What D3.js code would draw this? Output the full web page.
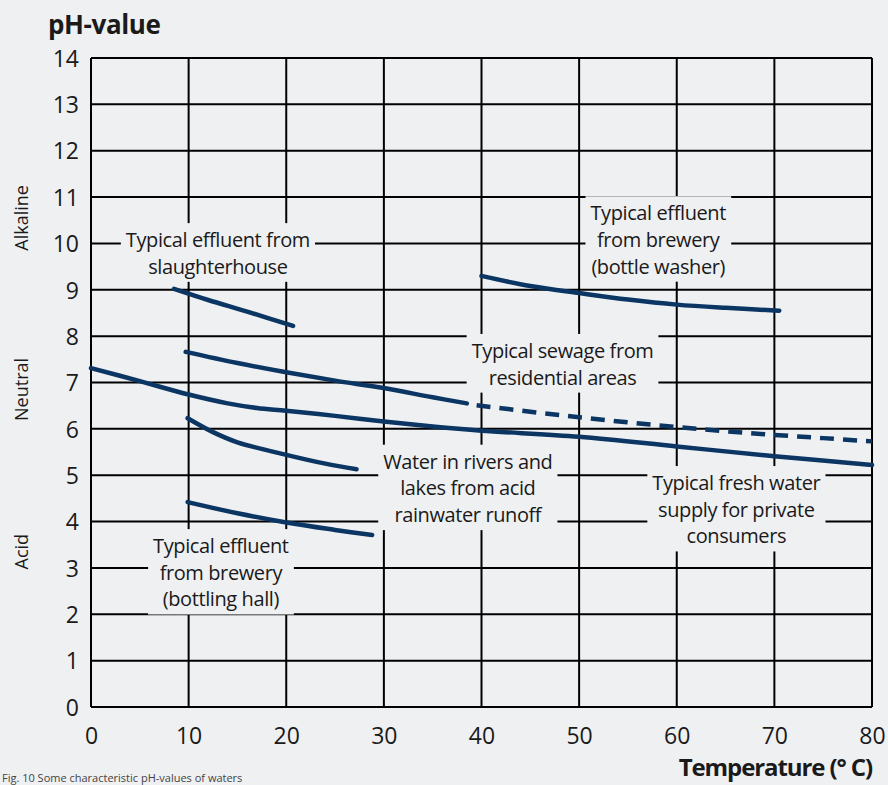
<!DOCTYPE html>
<html><head><meta charset="utf-8">
<script src="https://cdn.jsdelivr.net/npm/d3@7"></script>
<style>
html,body{margin:0;padding:0;background:#eff0f2;}
svg{display:block;font-family:"Open Sans","Noto Sans",sans-serif;}
</style></head>
<body><svg id="c" width="888" height="785"></svg>
<script>
const xTicks = [0,10,20,30,40,50,60,70,80];
const yTicks = [0,1,2,3,4,5,6,7,8,9,10,11,12,13,14];
const slaughterhouse = [[8.5,9.02],[12,8.78],[16,8.53],[20.7,8.22]];
const bottleWasher = [[40,9.3],[45,9.08],[50,8.93],[55,8.79],[60,8.68],[65,8.61],[70.5,8.55]];
const sewageSolid = [[9.7,7.66],[15,7.42],[20,7.22],[25,7.04],[30,6.88],[35,6.68],[38.5,6.55]];
const sewageDashed = [[39.5,6.51],[45,6.37],[50,6.25],[55,6.14],[60,6.04],[65,5.95],[70,5.87],[75,5.8],[80,5.73]];
const freshWater = [[0,7.31],[5,7.03],[10,6.74],[14,6.55],[17,6.45],[20,6.39],[25,6.28],[30,6.16],[35,6.05],[40,5.96],[50,5.83],[60,5.62],[70,5.41],[80,5.22]];
const acidRain = [[9.9,6.23],[12.5,5.93],[15,5.71],[20,5.44],[24,5.25],[27.2,5.13]];
const bottlingHall = [[9.9,4.42],[15,4.18],[20,3.98],[25,3.82],[28.8,3.71]];
const labels = [
  {lines:["Typical effluent from","slaughterhouse"], t:13.0, ph:9.92},
  {lines:["Typical effluent","from brewery","(bottle washer)"], t:58.1, ph:10.5},
  {lines:["Typical sewage from","residential areas"], t:48.3, ph:7.53},
  {lines:["Water in rivers and","lakes from acid","rainwater runoff"], t:38.6, ph:5.14},
  {lines:["Typical fresh water","supply for private","consumers"], t:66.1, ph:4.68},
  {lines:["Typical effluent","from brewery","(bottling hall)"], t:13.3, ph:3.32}
];
const sideLabels = [{text:"Alkaline", ph:10.55},{text:"Neutral", ph:6.85},{text:"Acid", ph:3.35}];

const svg = d3.select("#c");
const L=91, R=872, T=58, B=707;
const x = d3.scaleLinear().domain([0,80]).range([L,R]);
const y = d3.scaleLinear().domain([0,14]).range([B,T]);
const bg = "#eff0f2", ink="#1a1a1a", curveCol="#0b3563";

svg.append("rect").attr("width",888).attr("height",785).attr("fill",bg);

// grid
const g = svg.append("g");
g.selectAll("line.h").data(yTicks).join("line")
  .attr("x1",L).attr("x2",R).attr("y1",d=>y(d)).attr("y2",d=>y(d))
  .attr("stroke","#000").attr("stroke-width",2);
g.selectAll("line.v").data(xTicks).join("line")
  .attr("y1",T).attr("y2",B).attr("x1",d=>x(d)).attr("x2",d=>x(d))
  .attr("stroke","#000").attr("stroke-width",2);

// axes labels
const yAxis = d3.axisLeft(y).tickValues(yTicks).tickSize(0).tickPadding(12);
const ya = svg.append("g").attr("transform",`translate(${L},0)`).call(yAxis);
ya.select(".domain").remove();
ya.selectAll("text").attr("font-size",23).attr("fill",ink).attr("font-family","Open Sans").attr("dy","0.36em");
const xAxis = d3.axisBottom(x).tickValues(xTicks).tickSize(0).tickPadding(21);
const xa = svg.append("g").attr("transform",`translate(0,${B})`).call(xAxis);
xa.select(".domain").remove();
xa.selectAll("text").attr("font-size",23).attr("fill",ink).attr("font-family","Open Sans");

svg.append("text").attr("x",48).attr("y",34).attr("font-size",26).attr("font-weight","bold")
  .attr("letter-spacing","-0.4").attr("fill",ink).text("pH-value");
svg.append("text").attr("x",872).attr("y",776).attr("text-anchor","end").attr("font-size",24)
  .attr("font-weight","bold").attr("fill",ink).attr("letter-spacing","-1.1").text("Temperature (° C)");
svg.append("text").attr("x",2).attr("y",782).attr("font-size",11).attr("fill","#444")
  .text("Fig. 10 Some characteristic pH-values of waters");

sideLabels.forEach(s=>{
  svg.append("text").attr("transform",`translate(28,${y(s.ph)}) rotate(-90)`)
    .attr("text-anchor","middle").attr("font-size",18).attr("fill",ink).text(s.text);
});

// labels with background boxes
labels.forEach(lb=>{
  const grp = svg.append("g");
  const rect = grp.append("rect").attr("fill",bg);
  const txt = grp.append("text").attr("text-anchor","middle").attr("font-size",20)
    .attr("fill",ink).attr("letter-spacing","-0.4");
  lb.lines.forEach((l,i)=>{
    txt.append("tspan").attr("x",x(lb.t)).attr("y",y(lb.ph)+i*26.7).text(l);
  });
  const bb = txt.node().getBBox();
  rect.attr("x",bb.x-5).attr("y",bb.y-3).attr("width",bb.width+10).attr("height",bb.height+5);
});

// curves
const line = d3.line().x(d=>x(d[0])).y(d=>y(d[1])).curve(d3.curveCatmullRom);
[slaughterhouse,bottleWasher,sewageSolid,freshWater,acidRain,bottlingHall].forEach(s=>{
  svg.append("path").attr("d",line(s)).attr("fill","none").attr("stroke",curveCol)
    .attr("stroke-width",4.5).attr("stroke-linecap","round");
});
svg.append("path").attr("d",line(sewageDashed)).attr("fill","none").attr("stroke",curveCol)
  .attr("stroke-width",4.5).attr("stroke-dasharray","14 9");
</script></body></html>
